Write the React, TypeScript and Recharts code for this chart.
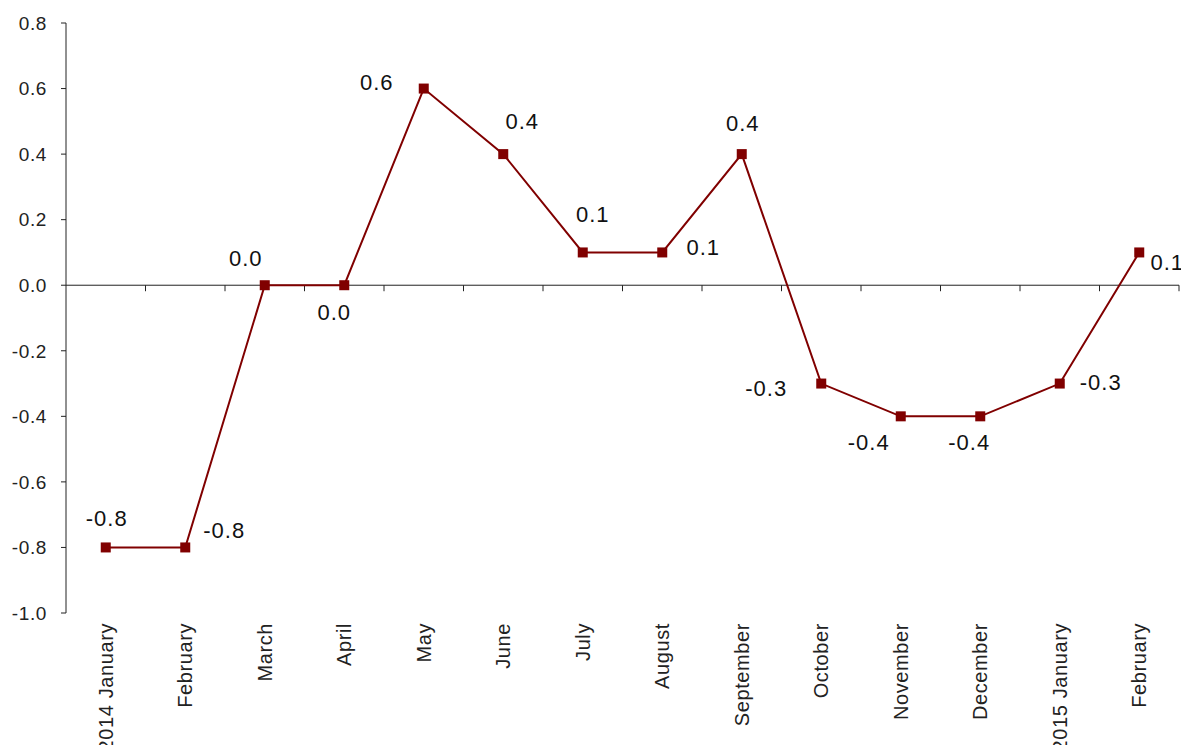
import React from 'react';
import { ComposedChart, Line, XAxis, YAxis, ReferenceLine, LabelList } from 'recharts';

const months = [
  '2014 January', 'February', 'March', 'April', 'May', 'June', 'July', 'August',
  'September', 'October', 'November', 'December', '2015 January', 'February',
];
const changes = [-0.8, -0.8, 0.0, 0.0, 0.6, 0.4, 0.1, 0.1, 0.4, -0.3, -0.4, -0.4, -0.3, 0.1];
const yTicks = [-1.0, -0.8, -0.6, -0.4, -0.2, 0.0, 0.2, 0.4, 0.6, 0.8];

// where each value label sits relative to its marker (px)
const labelOffsets = [
  [1, -29], [39, -17], [-19, -27], [-10, 27], [-47, -6], [19, -33], [10, -38],
  [41, -5], [1, -31], [-55, 5], [-32, 26], [-11, 26], [41, -1], [28, 10],
];

const data = months.map((m, i) => ({ key: i, month: m, value: changes[i] }));

const LINE = '#800000';
const FONT = '"Liberation Sans", Arial, sans-serif';

const MonthTick = (props: any) => {
  const { x, y, payload } = props;
  return (
    <text
      x={x}
      y={y}
      transform={`rotate(-90, ${x}, ${y})`}
      textAnchor="end"
      dy="0.35em"
      fontSize={20}
      letterSpacing={0.6}
      fontFamily={FONT}
      fill="#222"
      style={{ whiteSpace: 'pre' }}
    >
      {months[payload.value]}
    </text>
  );
};

const ValueLabel = (props: any) => {
  const { x, y, value, index } = props;
  const [dx, dy] = labelOffsets[index];
  return (
    <text
      x={x + dx}
      y={y + dy}
      textAnchor="middle"
      dominantBaseline="central"
      fontSize={22}
      letterSpacing={1}
      fontFamily={FONT}
      fill="#111"
    >
      {Number(value).toFixed(1)}
    </text>
  );
};

// zero line with tick marks between categories
const ZeroAxis = (props: any) => {
  const { x1, x2, y1 } = props;
  const n = months.length;
  const step = (x2 - x1) / n;
  const marks = [];
  for (let i = 1; i <= n; i++) {
    const tx = x1 + step * i;
    marks.push(<line key={i} x1={tx} x2={tx} y1={y1} y2={y1 + 6} stroke="#222" strokeWidth={1} />);
  }
  return (
    <g>
      <line x1={x1} x2={x2} y1={y1} y2={y1} stroke="#222" strokeWidth={1} />
      {marks}
    </g>
  );
};

const Square = (props: any) => {
  const { cx, cy } = props;
  return <rect x={cx - 5} y={cy - 5} width={10} height={10} fill={LINE} />;
};

export default function App() {
  return (
    <div style={{ margin: -8, width: 1189, height: 753, background: '#fff' }}>
      <ComposedChart
        width={1189}
        height={753}
        data={data}
        margin={{ top: 23, right: 10, bottom: 0, left: 0 }}
      >
        <XAxis
          dataKey="key"
          type="category"
          scale="band"
          axisLine={false}
          tickLine={false}
          interval={0}
          height={140}
          tick={<MonthTick />}
          tickMargin={4}
        />
        <YAxis
          domain={[-1, 0.8]}
          ticks={yTicks}
          width={66}
          interval={0}
          tickSize={5}
          tickMargin={14}
          tickFormatter={(v: number) => v.toFixed(1)}
          axisLine={{ stroke: '#222' }}
          tickLine={{ stroke: '#222' }}
          tick={{ fontSize: 19, letterSpacing: 0.6, fontFamily: FONT, fill: '#222' }}
        />
        <ReferenceLine y={0} shape={<ZeroAxis />} />
        <Line
          dataKey="value"
          stroke={LINE}
          strokeWidth={2}
          dot={<Square />}
          activeDot={false}
          isAnimationActive={false}
        >
          <LabelList dataKey="value" content={<ValueLabel />} />
        </Line>
      </ComposedChart>
    </div>
  );
}
